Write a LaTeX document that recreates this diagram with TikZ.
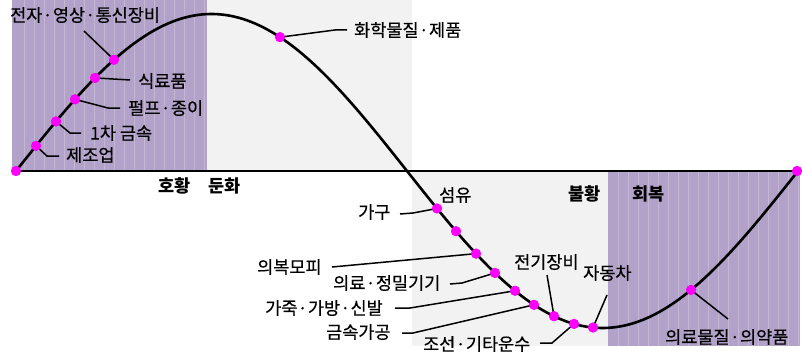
\documentclass[tikz,border=0pt]{standalone}
\usepackage{fontspec}
\newfontfamily\kr[FakeBold=0.5]{Noto Sans CJK KR}
\newfontfamily\krb{Noto Sans CJK KR}
\definecolor{purp}{RGB}{178,161,201}
\definecolor{stripe}{RGB}{196,183,214}
\definecolor{greyb}{RGB}{242,242,242}
\definecolor{mag}{RGB}{255,0,255}
\newcommand\md{\makebox[0.6em]{·}}
\begin{document}
\begin{tikzpicture}[x=1pt,y=-1pt,
  lab/.style={font=\kr\fontsize{17.5}{19}\selectfont, inner sep=0pt, anchor=west},
  blab/.style={lab, font=\krb\bfseries\fontsize{17.5}{19}\selectfont},
  dot/.style={circle, fill=mag, inner sep=0pt, minimum size=10pt},
  leader/.style={line width=1.5pt, black},
  curve/.style={line width=2.6pt, black},
  axisline/.style={line width=2pt, black},
  stripeline/.style={stripe, line width=0.7pt},
  declare function={f(\x)=171-157*sin((\x-16)/782*360);}
]
\useasboundingbox (0,0) rectangle (802,353);
% backgrounds
\fill[purp] (12,0) rectangle (207,171);
\fill[greyb] (207,0) rectangle (412,171);
\fill[greyb] (412,171) rectangle (608,346);
\fill[purp] (608,171) rectangle (800,346);
\foreach \x in {24,34,...,204} \draw[stripeline] (\x,0) -- (\x,170);
\foreach \x in {618,628,...,798} \draw[stripeline] (\x,172) -- (\x,346);
% dots (positions)
\node[dot] (d0) at (16,171) {};
\node[dot] (dend) at (797,171) {};
\foreach \n/\x in {a/36,b/56,c/75,d/95,e/114,f/280,g/437,h/456,i/476,j/495,k/515,l/534,m/554,n/574,o/593,p/691}
  \node[dot] (d\n) at (\x,{f(\x)}) {};
% axis and curve
\draw[axisline] (d0.center) -- (dend.center);
\draw[curve] plot[domain=16:797, samples=160, smooth] (\x,{f(\x)});
% labels
\node[lab] (t1) at (10,15) {전자\md 영상\md 통신장비};
\node[lab] (t2) at (138,81) {식료품};
\node[lab] (t3) at (128,108) {펄프\md 종이};
\node[lab] (t4) at (90,133) {1차 금속};
\node[lab] (t5) at (66,155) {제조업};
\node[lab] (t6) at (354,30) {화학물질\md 제품};
\node[blab] (s1) at (158,186) {호황};
\node[blab] (s2) at (208,186) {둔화};
\node[blab] (s3) at (568,194) {불황};
\node[blab] (s4) at (632,194) {회복};
\node[lab] (t7) at (439,195) {섬유};
\node[lab] (t8) at (358,212) {가구};
\node[lab] (t9) at (257,267) {의복모피};
\node[lab] (t10) at (333,283) {의료\md 정밀기기};
\node[lab] (t11) at (265,308) {가죽\md 가방\md 신발};
\node[lab] (t12) at (326,332) {금속가공};
\node[lab] (t13) at (423,344) {조선\md 기타운수};
\node[lab] (t14) at (514,262) {전기장비};
\node[lab] (t15) at (583,273) {자동차};
\node[lab] (t16) at (665,337) {의료물질\md 의약품};
% leader coordinates
\coordinate (e1) at (84,31);
\coordinate (e2) at (130,80);
\coordinate (k3) at (108,108); \coordinate (e3) at (120,108);
\coordinate (k4) at (70,133); \coordinate (e4) at (81,133);
\coordinate (k5) at (47,156); \coordinate (e5) at (59,156);
\coordinate (k6) at (335,30); \coordinate (e6) at (347,30);
\coordinate (k8) at (413,213); \coordinate (e8) at (400,214);
\coordinate (e9) at (332,267);
\coordinate (k10) at (462,283); \coordinate (e10) at (450,284);
\coordinate (k11) at (410,308); \coordinate (e11) at (395,308);
\coordinate (k12) at (413,333); \coordinate (e12) at (402,333);
\coordinate (k13) at (552,343); \coordinate (e13) at (540,343);
\coordinate (e14) at (547,275);
\coordinate (e15) at (607,295);
\coordinate (e16) at (728,319);
% leaders
\draw[leader] (de.center) -- (e1);
\draw[leader] (dd.center) -- (e2);
\draw[leader] (dc.center) -- (k3) -- (e3);
\draw[leader] (db.center) -- (k4) -- (e4);
\draw[leader] (da.center) -- (k5) -- (e5);
\draw[leader] (df.center) -- (k6) -- (e6);
\draw[leader] (dg.center) -- (k8) -- (e8);
\draw[leader] (di.center) -- (e9);
\draw[leader] (dj.center) -- (k10) -- (e10);
\draw[leader] (dk.center) -- (k11) -- (e11);
\draw[leader] (dl.center) -- (k12) -- (e12);
\draw[leader] (dn.center) -- (k13) -- (e13);
\draw[leader] (dm.center) -- (e14);
\draw[leader] (do.center) -- (e15);
\draw[leader] (dp.center) -- (e16);
% redraw dots on top
\foreach \n in {0,end,a,b,c,d,e,f,g,h,i,j,k,l,m,n,o,p}
  \fill[mag] (d\n.center) circle (5pt);
\end{tikzpicture}
\end{document}
